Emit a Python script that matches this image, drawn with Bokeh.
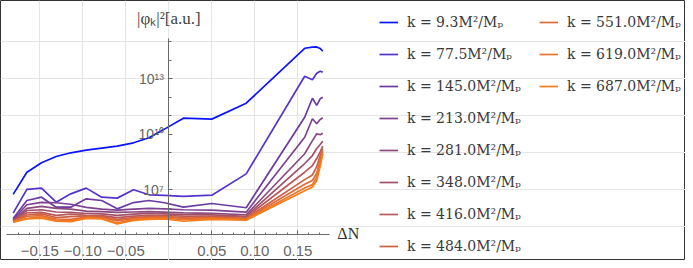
import numpy as np
from bokeh.plotting import figure
from bokeh.models import (LinearAxis, LogAxis, FixedTicker, Legend, LegendItem, Label)
from bokeh.embed import file_html
from bokeh.resources import INLINE

# ---- data (y given as log10 of |phi_k|^2) ----
dN = [-0.181, -0.165, -0.148, -0.131, -0.114, -0.096, -0.078, -0.060, -0.041, -0.023,
      -0.005, 0.017, 0.050, 0.090, 0.158, 0.167, 0.172, 0.176, 0.179]

k_labels = ["9.3", "77.5", "145.0", "213.0", "281.0", "348.0", "416.0", "484.0",
            "551.0", "619.0", "687.0"]

logphi_k9 = [6.75, 7.95, 8.46, 8.80, 9.00, 9.14, 9.25, 9.36, 9.54, 9.81, 10.28, 10.87, 10.82, 11.68, 14.65, 14.71, 14.72, 14.64, 14.49]
logphi_k77 = [5.74, 7.02, 7.09, 6.33, 6.78, 7.09, 6.60, 6.55, 7.00, 6.73, 6.70, 6.64, 6.71, 7.86, 13.14, 12.95, 13.30, 13.41, 13.36]
logphi_k145 = [5.45, 6.42, 6.60, 6.06, 6.06, 6.51, 6.42, 5.97, 6.31, 6.42, 6.30, 6.06, 6.26, 6.03, 10.92, 11.95, 11.56, 11.92, 12.00]
logphi_k213 = [5.40, 6.19, 6.32, 6.30, 6.22, 6.05, 5.95, 5.90, 5.95, 6.00, 5.97, 5.92, 5.90, 5.79, 9.84, 10.84, 10.57, 10.80, 10.89]
logphi_k281 = [5.36, 6.00, 6.10, 6.00, 5.95, 5.85, 5.82, 5.78, 5.80, 5.82, 5.79, 5.75, 5.73, 5.65, 8.95, 9.66, 10.03, 9.98, 10.06]
logphi_k348 = [5.33, 5.88, 5.92, 5.80, 5.78, 5.72, 5.70, 5.62, 5.68, 5.72, 5.70, 5.66, 5.64, 5.57, 8.42, 8.85, 9.23, 9.45, 9.63]
logphi_k416 = [5.31, 5.76, 5.78, 5.62, 5.68, 5.62, 5.60, 5.50, 5.58, 5.62, 5.61, 5.58, 5.57, 5.52, 7.95, 8.31, 8.69, 9.05, 9.36]
logphi_k484 = [5.29, 5.65, 5.70, 5.50, 5.55, 5.58, 5.55, 5.40, 5.50, 5.55, 5.55, 5.50, 5.52, 5.46, 7.55, 7.80, 8.25, 8.85, 9.23]
logphi_k551 = [5.28, 5.57, 5.60, 5.42, 5.40, 5.52, 5.50, 5.32, 5.45, 5.50, 5.52, 5.45, 5.48, 5.43, 7.30, 7.50, 7.90, 8.60, 9.12]
logphi_k619 = [5.26, 5.46, 5.52, 5.35, 5.32, 5.48, 5.45, 5.20, 5.40, 5.45, 5.46, 5.38, 5.44, 5.39, 7.10, 7.28, 7.70, 8.40, 9.02]
logphi_k687 = [5.25, 5.43, 5.47, 5.30, 5.28, 5.45, 5.42, 5.16, 5.35, 5.40, 5.42, 5.30, 5.40, 5.36, 6.95, 7.15, 7.50, 8.25, 8.95]

series = [logphi_k9, logphi_k77, logphi_k145, logphi_k213, logphi_k281, logphi_k348,
          logphi_k416, logphi_k484, logphi_k551, logphi_k619, logphi_k687]

colors = ["#0a14ff", "#5533cc", "#6c3aa2", "#7d4292", "#8c4a7c", "#a2516a",
          "#b8595a", "#cd6148", "#e06a36", "#ec7428", "#f57d1c"]

x_ticks = [-0.15, -0.10, -0.05, 0.05, 0.10, 0.15]
x_tick_labels = ["\u22120.15", "\u22120.10", "\u22120.05", "0.05", "0.10", "0.15"]
y_ticks = [1e7, 1e10, 1e13]
y_tick_labels = ["10\u2077", "10\u00b9\u2070", "10\u00b9\u00b3"]

# ---- figure ----
W, H = 685, 260
p = figure(width=W, height=H, x_range=(-0.1957, 0.6008), y_range=(10**3.178, 10**17.232),
           y_axis_type="log", x_axis_location=None, y_axis_location=None,
           output_backend="svg", toolbar_location=None, min_border=0)
p.outline_line_color = "#333333"
p.outline_line_width = 1
p.background_fill_color = "white"
p.border_fill_color = "white"

tick_font = "Liberation Sans"
axis_col = "#6a6a6a"

xaxis = LinearAxis(fixed_location=10**4.567, bounds=(-0.189, 0.1863),
                   ticker=FixedTicker(ticks=x_ticks,
                                      minor_ticks=[round(-0.175 + 0.0125 * i, 4) for i in range(29)]))
xaxis.major_label_overrides = {t: s for t, s in zip(x_ticks, x_tick_labels)}
xaxis.major_tick_in = 4
xaxis.major_tick_out = 0
xaxis.minor_tick_in = 2
xaxis.minor_tick_out = 0
xaxis.axis_line_color = axis_col
xaxis.major_tick_line_color = axis_col
xaxis.minor_tick_line_color = axis_col
xaxis.major_label_text_font = tick_font
xaxis.major_label_text_font_size = "15px"
xaxis.major_label_text_color = "#666666"
xaxis.major_label_standoff = 11
p.add_layout(xaxis, "below")

yaxis = LogAxis(fixed_location=0, bounds=(10**4.567, 10**15.18),
                ticker=FixedTicker(ticks=y_ticks, minor_ticks=[10.0**e for e in range(5, 16)]))
yaxis.major_label_overrides = {t: s for t, s in zip(y_ticks, y_tick_labels)}
yaxis.major_tick_in = 4
yaxis.major_tick_out = 0
yaxis.minor_tick_in = 3
yaxis.minor_tick_out = 0
yaxis.axis_line_color = axis_col
yaxis.major_tick_line_color = axis_col
yaxis.minor_tick_line_color = axis_col
yaxis.major_label_text_font = tick_font
yaxis.major_label_text_font_size = "14px"
yaxis.major_label_text_color = "#666666"
yaxis.major_label_standoff = 5
p.add_layout(yaxis, "left")

items = []
for lab, vals, col in zip(k_labels, series, colors):
    r = p.line(dN, 10.0 ** np.array(vals), line_color=col, line_width=1.7)
    items.append(LegendItem(label="k = %sM\u00b2/M\u209a" % lab, renderers=[r]))

legend = Legend(items=items, location=(379, 4), orientation="vertical", nrows=8,
                glyph_width=19, glyph_height=20, label_height=20, label_width=120,
                label_standoff=9, spacing=12, padding=0, margin=0,
                border_line_color=None, background_fill_alpha=0,
                label_text_font="DejaVu Serif", label_text_font_size="14px",
                label_text_color="#3a3a3a")
p.add_layout(legend)

p.add_layout(Label(x=0, y=10**15.77, text="|\u03c6\u2096|\u00b2[a.u.]", text_align="center",
                   text_baseline="bottom", text_font="Liberation Serif",
                   text_font_size="17px", text_color="#444444"))
p.add_layout(Label(x=0.196, y=10**4.64, text="\u0394N", text_align="left",
                   text_baseline="middle", text_font="Liberation Serif",
                   text_font_size="16px", text_color="#333333"))

open("out.html", "w").write(file_html(p, INLINE))
